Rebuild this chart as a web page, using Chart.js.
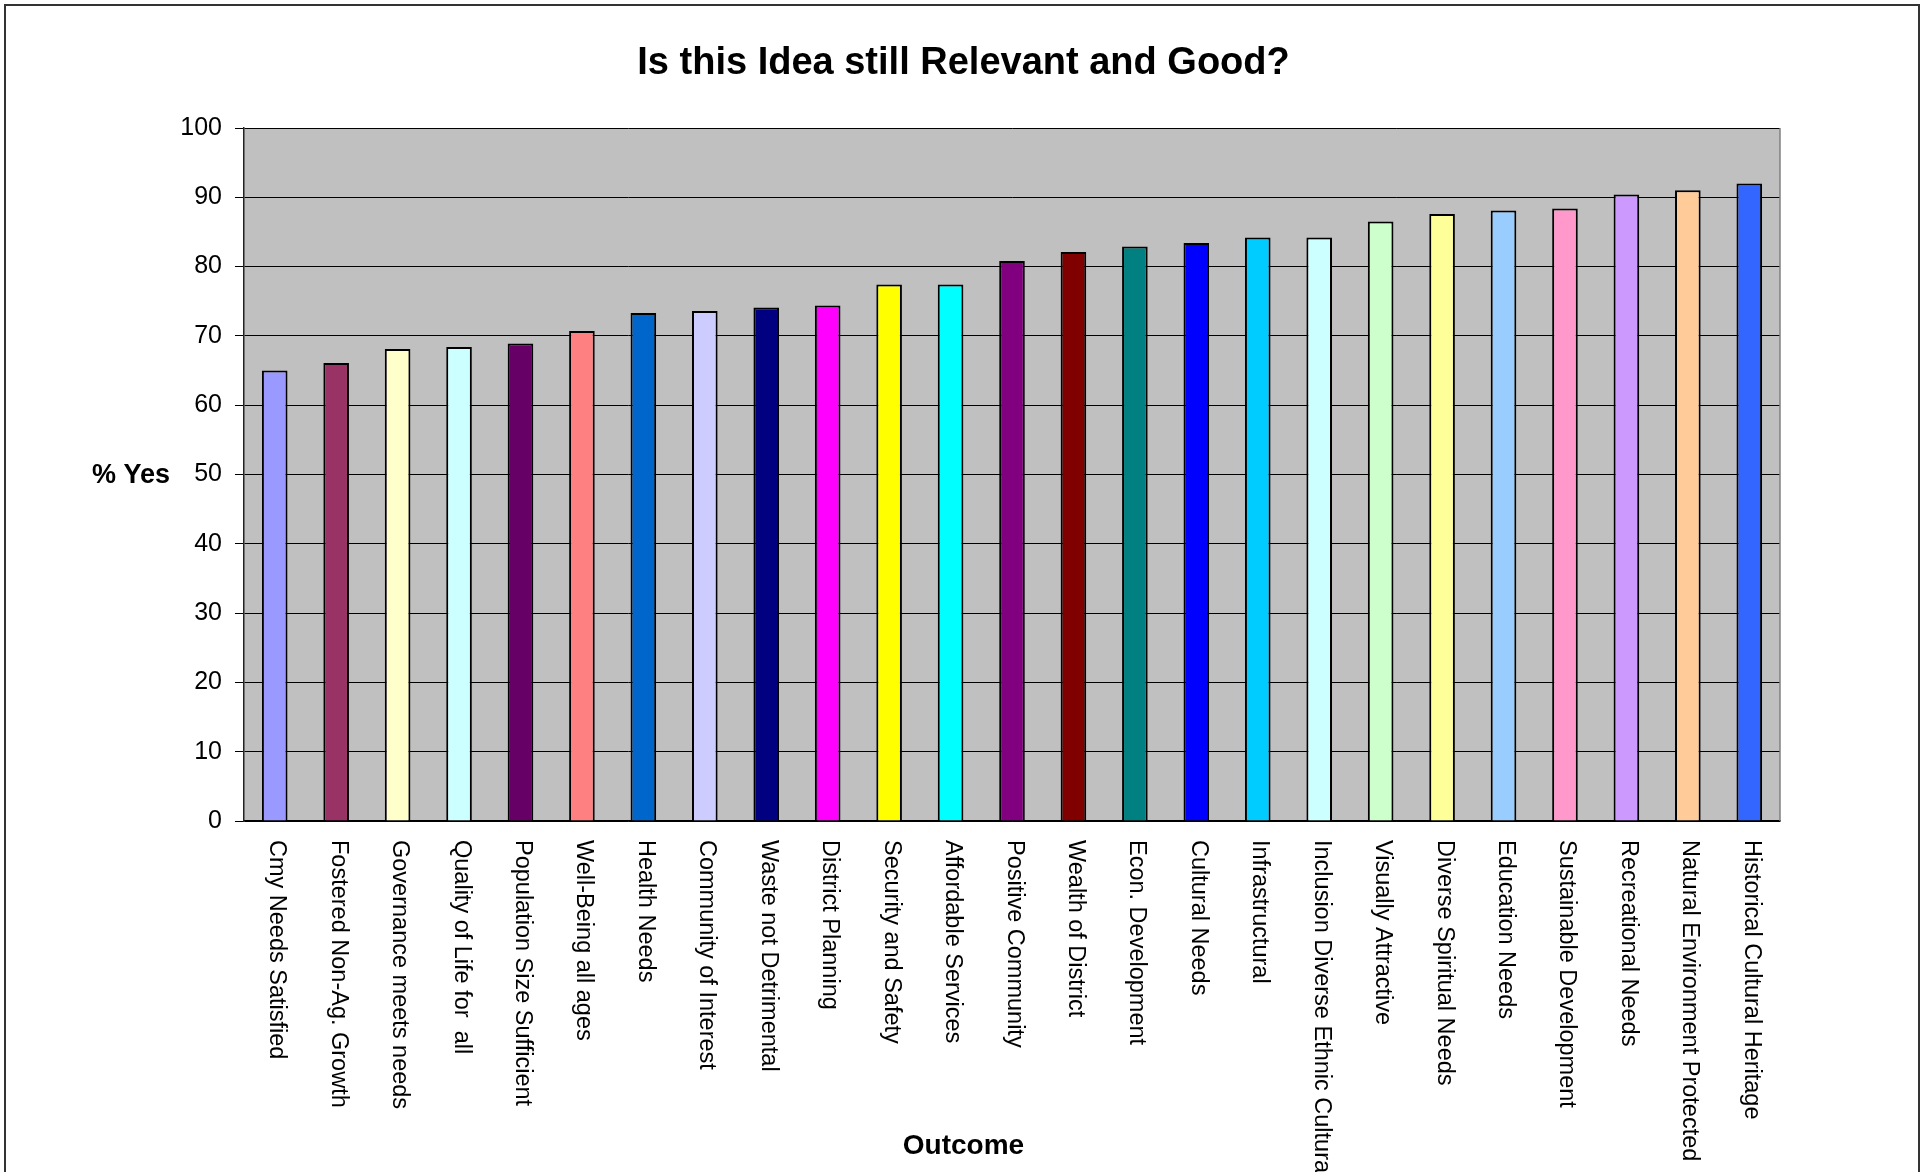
<!DOCTYPE html>
<html>
<head>
<meta charset="utf-8">
<title>Is this Idea still Relevant and Good?</title>
<script src="https://cdn.jsdelivr.net/npm/chart.js@4/dist/chart.umd.min.js"></script>
<style>
  html, body { margin: 0; padding: 0; background: #ffffff; }
  #wrap { width: 1927px; height: 1172px; position: relative; }
  canvas { display: block; }
</style>
</head>
<body>
<div id="wrap"><canvas id="chart" width="1927" height="1172"></canvas></div>
<script>
// Survey outcomes, sorted by share answering "yes"
const categories = [
  "Cmy Needs Satisfied",
  "Fostered Non-Ag. Growth",
  "Governance meets needs",
  "Quality of Life for  all",
  "Population Size Sufficient",
  "Well-Being all ages",
  "Health Needs",
  "Community of Interest",
  "Waste not Detrimental",
  "District Planning",
  "Security and Safety",
  "Affordable Services",
  "Positive Community",
  "Wealth of District",
  "Econ. Development",
  "Cultural Needs",
  "Infrastructural",
  "Inclusion Diverse Ethnic Cultural",
  "Visually Attractive",
  "Diverse Spiritual Needs",
  "Education Needs",
  "Sustainable Development",
  "Recreational Needs",
  "Natural Environment Protected",
  "Historical Cultural Heritage"
];

const yesPercent = [
  65.0, 66.1, 68.1, 68.4, 68.9, 70.7, 73.3, 73.6, 74.1, 74.4,
  77.4, 77.4, 80.8, 82.1, 82.9, 83.4, 84.2, 84.2, 86.5, 87.6,
  88.1, 88.4, 90.4, 91.0, 92.0
];

const barColors = [
  "#9999FF", "#993366", "#FFFFCC", "#CCFFFF", "#660066",
  "#FF8080", "#0066CC", "#CCCCFF", "#000080", "#FF00FF",
  "#FFFF00", "#00FFFF", "#800080", "#800000", "#008080",
  "#0000FF", "#00CCFF", "#CCFFFF", "#CCFFCC", "#FFFF99",
  "#99CCFF", "#FF99CC", "#CC99FF", "#FFCC99", "#3366FF"
];

const yTicks = [0, 10, 20, 30, 40, 50, 60, 70, 80, 90, 100];

const chartTitle = "Is this Idea still Relevant and Good?";
const yAxisTitle = "% Yes";
const xAxisTitle = "Outcome";

const FONT = "'Liberation Sans', Arial, Helvetica, sans-serif";

// Grey plot background, outer frame, right plot edge and all free-standing text
const decorations = {
  id: "decorations",
  beforeDraw(chart) {
    const { ctx, chartArea: a } = chart;
    ctx.save();
    ctx.fillStyle = "#ffffff";
    ctx.fillRect(0, 0, chart.width, chart.height);
    ctx.fillStyle = "#C0C0C0";
    ctx.fillRect(a.left, a.top, a.right - a.left, a.bottom - a.top);
    ctx.restore();
  },
  afterDraw(chart) {
    const { ctx, chartArea: a } = chart;
    const xScale = chart.scales.x;
    ctx.save();

    // right edge of the plot area
    ctx.strokeStyle = "#808080";
    ctx.lineWidth = 1.5;
    ctx.beginPath();
    ctx.moveTo(a.right, a.top);
    ctx.lineTo(a.right, a.bottom);
    ctx.stroke();

    // outer frame
    ctx.strokeStyle = "#333333";
    ctx.lineWidth = 2;
    ctx.strokeRect(5, 5, 1914, 1220);

    ctx.fillStyle = "#000000";

    // title
    ctx.font = "bold 38px " + FONT;
    ctx.textAlign = "center";
    ctx.textBaseline = "alphabetic";
    ctx.fillText(chartTitle, chart.width / 2, 74);

    // y axis title, horizontal
    ctx.font = "bold 27px " + FONT;
    ctx.textAlign = "left";
    ctx.textBaseline = "middle";
    ctx.fillText(yAxisTitle, 92, chart.scales.y.getPixelForValue(50) + 1);

    // x axis title
    ctx.font = "bold 28px " + FONT;
    ctx.textAlign = "center";
    ctx.textBaseline = "middle";
    ctx.fillText(xAxisTitle, chart.width / 2, 1146);

    // category labels, turned to read downwards
    ctx.font = "23.5px " + FONT;
    ctx.textAlign = "left";
    ctx.textBaseline = "middle";
    categories.forEach((label, i) => {
      const x = xScale.getPixelForValue(i);
      ctx.save();
      ctx.translate(x + 2, a.bottom + 19);
      ctx.rotate(Math.PI / 2);
      ctx.fillText(label, 0, 0);
      ctx.restore();
    });

    ctx.restore();
  }
};

new Chart(document.getElementById("chart"), {
  type: "bar",
  data: {
    labels: categories,
    datasets: [{
      label: yAxisTitle,
      data: yesPercent,
      backgroundColor: barColors,
      borderColor: "#000000",
      borderWidth: 2,
      borderSkipped: "bottom",
      categoryPercentage: 1.0,
      barPercentage: 0.417
    }]
  },
  options: {
    responsive: false,
    devicePixelRatio: 1,
    animation: false,
    layout: { padding: { left: 0, top: 128, right: 147, bottom: 0 } },
    plugins: {
      legend: { display: false },
      title: { display: false },
      tooltip: { enabled: false }
    },
    scales: {
      x: {
        type: "category",
        offset: true,
        grid: { display: false, drawTicks: false },
        border: { display: true, color: "#000000", width: 1.5 },
        ticks: { display: false },
        afterFit(scale) { scale.height = 351; }
      },
      y: {
        min: 0,
        max: 100,
        afterBuildTicks(scale) {
          scale.ticks = yTicks.map(v => ({ value: v }));
        },
        grid: {
          color: "#000000",
          lineWidth: 1,
          drawTicks: true,
          tickLength: 9,
          tickColor: "#000000"
        },
        border: { display: true, color: "#222222", width: 1.5 },
        ticks: {
          color: "#000000",
          font: { family: FONT, size: 25 },
          padding: 13
        },
        afterFit(scale) { scale.width = 244; }
      }
    }
  },
  plugins: [decorations]
});
</script>
</body>
</html>
